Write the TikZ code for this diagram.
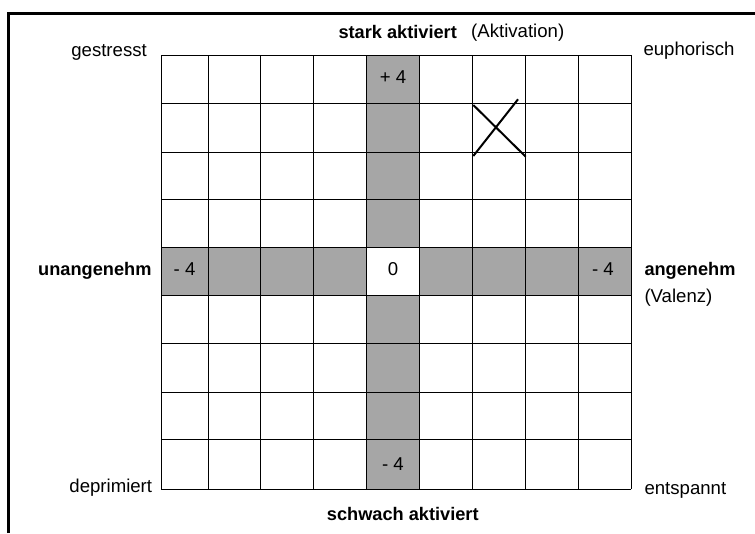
\documentclass[tikz,border=0pt]{standalone}
\usepackage{fontspec}
\setmainfont{Liberation Sans}
\definecolor{axisgray}{RGB}{166,166,166}
\tikzset{
  gridline/.style={line width=0.9pt},
  label/.style={inner sep=0pt, font=\fontsize{18.6}{21}\selectfont},
  axislabel/.style={label, font=\fontsize{18.2}{21}\selectfont\bfseries},
}
\begin{document}
\begin{tikzpicture}[x=1pt, y=-1pt]
    \useasboundingbox (0,0) rectangle (755,533);

    % frame
    \draw[line width=2.4pt] (8.3,533) -- (8.3,13.3) -- (755,13.3);

    % shaded axes
    \fill[axisgray] (366.7,55.3) rectangle (419.3,489);
    \fill[axisgray] (161.3,247.7) rectangle (631.3,295.3);
    \fill[white] (366.7,247.7) rectangle (419.3,295.3);

    % grid
    \foreach \x in {161.3, 208.3, 260.7, 313.3, 366.7, 419.3, 472, 525.3, 578, 631.3} {
      \draw[gridline] (\x,55.3) -- (\x,489);
    }
    \foreach \y in {55.3, 103.3, 152.3, 199.3, 247.7, 295.3, 343.3, 392, 439.3, 489} {
      \draw[gridline] (161.3,\y) -- (631.3,\y);
    }

    % cross
    \draw[line width=2pt] (473.3,156) -- (518,99.3);
    \draw[line width=2pt] (473.3,105) -- (525.7,156.7);

    % scale values
    \node[label, anchor=base] (plusfour) at (393,83) {+ 4};
    \node[label, anchor=base] (null) at (393,275.7) {0};
    \node[label, anchor=base] (minusbottom) at (393,470) {- 4};
    \node[label, anchor=base west] (minusleft) at (173.5,275.7) {- 4};
    \node[label, anchor=base east] (minusright) at (614,275.7) {- 4};

    % axes
    \node[axislabel, anchor=base west] (stark) at (338.3,38) {stark aktiviert};
    \node[label, anchor=base west] (aktivation) at (471,37) {(Aktivation)};
    \node[axislabel, anchor=base west] (schwach) at (326.7,520.7) {schwach aktiviert};
    \node[axislabel, anchor=base east] (unangenehm) at (151.7,275.7) {unangenehm};
    \node[axislabel, anchor=base west] (angenehm) at (644.3,275.7) {angenehm};
    \node[label, anchor=base west] (valenz) at (644.3,302.7) {(Valenz)};

    % corners
    \node[label, anchor=base east] (gestresst) at (147,56) {gestresst};
    \node[label, anchor=base west] (euphorisch) at (643.3,55) {euphorisch};
    \node[label, anchor=base east] (deprimiert) at (152.3,492.3) {deprimiert};
    \node[label, anchor=base west] (entspannt) at (644.3,494) {entspannt};
\end{tikzpicture}
\end{document}
